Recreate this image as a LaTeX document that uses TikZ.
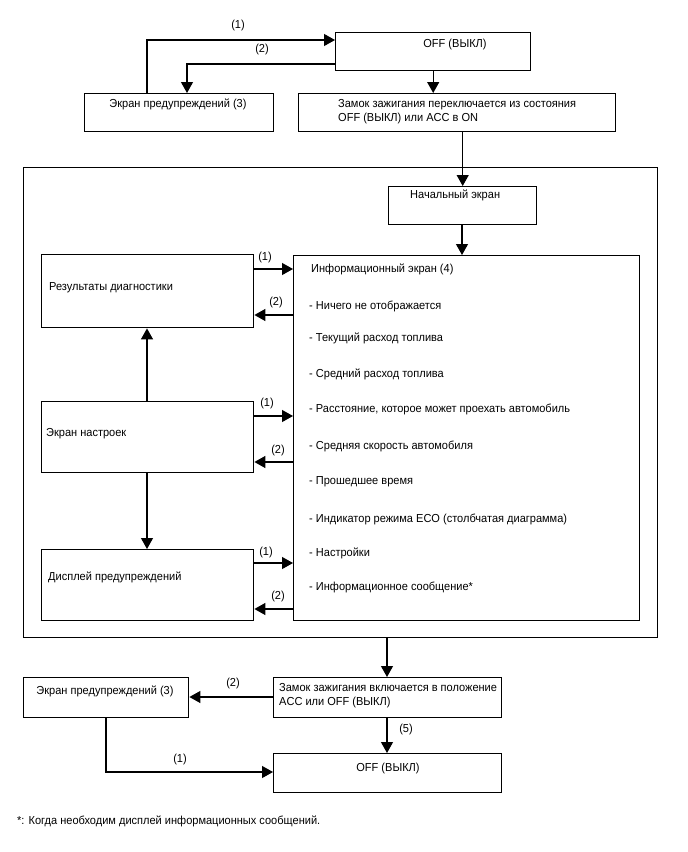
\documentclass[tikz,border=0pt]{standalone}
\usepackage{fontspec}
\setmainfont{Liberation Sans}[FakeStretch=0.95]
\usetikzlibrary{arrows.meta}
\begin{document}
\begin{tikzpicture}[x=1pt,y=-1pt,
  box/.style={draw=black,line width=1.4pt,fill=white,inner sep=0pt,anchor=north west},
  txt/.style={inner sep=0pt,font=\fontsize{11.6}{14}\selectfont},
  ltxt/.style={txt,anchor=west},
  lab/.style={txt},
  arr/.style={line width=1.2pt,-{Triangle[length=11pt,width=12pt]}},
  ln/.style={line width=1.2pt}]
\useasboundingbox (0,0) rectangle (688,852);
% top
\node[box,minimum width=195pt,minimum height=38pt] (offT) at (335,32) {};
\node[txt] (offTt) at (455,44) {OFF (ВЫКЛ)};
\node[box,minimum width=189pt,minimum height=38pt] (warnT) at (84,93) {};
\node[txt] (warnTt) at (178,104) {Экран предупреждений (3)};
\node[box,minimum width=317pt,minimum height=38pt] (ignT) at (298,93) {};
\node[txt,anchor=north west,align=left] (ignTt) at (338,99) {Замок зажигания переключается из состояния\\OFF (ВЫКЛ) или ACC в ON};
\draw[arr] (warnT.north west -| 147,0) |- (offT.west |- 0,40);
\node[lab] (l1t) at (238,25) {(1)};
\draw[arr] (offT.west |- 0,64) -| (warnT.north west -| 187,0);
\node[lab] (l2t) at (262,49) {(2)};
\draw[arr] (offT.south) -- (ignT.north -| offT.south);
% big box
\node[box,line width=1.2pt,minimum width=634pt,minimum height=470pt] (big) at (23,167) {};
\node[box,minimum width=148pt,minimum height=38pt] (start) at (388,186) {};
\node[ltxt] (startt) at (410,195) {Начальный экран};
\draw[arr] (ignT.south -| start.north) -- (start.north);
\node[box,minimum width=346pt,minimum height=365pt] (info) at (293,255) {};
\draw[arr] (start.south -| 462,0) -- (info.north -| 462,0);
\node[ltxt] (i0) at (311,269) {Информационный экран (4)};
\node[ltxt] (i1) at (309,306) {- Ничего не отображается};
\node[ltxt] (i2) at (309,338) {- Текущий расход топлива};
\node[ltxt] (i3) at (309,374) {- Средний расход топлива};
\node[ltxt] (i4) at (309,409) {- Расстояние, которое может проехать автомобиль};
\node[ltxt] (i5) at (309,446) {- Средняя скорость автомобиля};
\node[ltxt] (i6) at (309,482) {- Прошедшее время};
\node[ltxt] (i7) at (309,519) {- Индикатор режима ECO (столбчатая диаграмма)};
\node[ltxt] (i8) at (309,553) {- Настройки};
\node[ltxt] (i9) at (309,587) {- Информационное сообщение*};
\node[box,minimum width=212pt,minimum height=73pt] (diag) at (41,254) {};
\node[ltxt] (diagt) at (49,288) {Результаты диагностики};
\node[box,minimum width=212pt,minimum height=71pt] (sett) at (41,401) {};
\node[ltxt] (settt) at (46,434) {Экран настроек};
\node[box,minimum width=212pt,minimum height=71pt] (warnD) at (41,549) {};
\node[ltxt] (warnDt) at (48,577) {Дисплей предупреждений};
\draw[arr] (diag.east |- 0,269) -- (info.west |- 0,269);
\node[lab] (ld1) at (265,257) {(1)};
\draw[arr] (info.west |- 0,315) -- (diag.east |- 0,315);
\node[lab] (ld2) at (276,302) {(2)};
\draw[arr] (sett.east |- 0,416) -- (info.west |- 0,416);
\node[lab] (ls1) at (267,403) {(1)};
\draw[arr] (info.west |- 0,462) -- (sett.east |- 0,462);
\node[lab] (ls2) at (278,450) {(2)};
\draw[arr] (warnD.east |- 0,563) -- (info.west |- 0,563);
\node[lab] (lw1) at (266,552) {(1)};
\draw[arr] (info.west |- 0,609) -- (warnD.east |- 0,609);
\node[lab] (lw2) at (278,596) {(2)};
\draw[arr] (sett.north -| 147,0) -- (diag.south -| 147,0);
\draw[arr] (sett.south -| 147,0) -- (warnD.north -| 147,0);
% bottom
\node[box,minimum width=228pt,minimum height=40pt] (ignB) at (273,677) {};
\node[txt,anchor=north west,align=left] (ignBt) at (279,683) {Замок зажигания включается в положение\\ACC или OFF (ВЫКЛ)};
\node[box,minimum width=165pt,minimum height=40pt] (warnB) at (23,677) {};
\node[txt] (warnBt) at (105,691) {Экран предупреждений (3)};
\node[box,minimum width=228pt,minimum height=39pt] (offB) at (273,753) {};
\node[txt] (offBt) at (388,768) {OFF (ВЫКЛ)};
\draw[arr] (big.south -| 387,0) -- (ignB.north -| 387,0);
\draw[arr] (ignB.west |- 0,697) -- (warnB.east |- 0,697);
\node[lab] (lb2) at (233,683) {(2)};
\draw[arr] (warnB.south -| 106,0) |- (offB.west |- 0,772);
\node[lab] (lb1) at (180,759) {(1)};
\draw[arr] (ignB.south -| 387,0) -- (offB.north -| 387,0);
\node[lab] (lb5) at (406,729) {(5)};
\node[ltxt] (foot) at (17,821) {*: Когда необходим дисплей информационных сообщений.};
\end{tikzpicture}
\end{document}
